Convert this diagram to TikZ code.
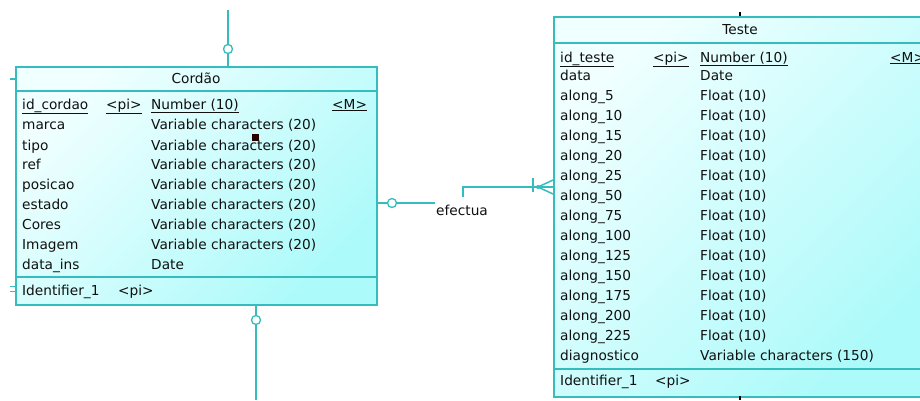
\documentclass[tikz,border=0pt]{standalone}
\usepackage{fontspec}
\setmainfont{DejaVu Sans}
\begin{document}
\begin{tikzpicture}[x=1pt,y=-1pt,
  teal line/.style={draw=ercol, line width=1.5pt},
  entbox/.style={draw=ercol, line width=1.5pt, rectangle, inner sep=0pt, anchor=north west,
     top color=entlight, bottom color=entdark, shading angle=45},
  txt/.style={anchor=base west, inner sep=0pt, font=\fontsize{13.7}{15}\selectfont, text=txtcol},
  ttl/.style={anchor=base, inner sep=0pt, font=\fontsize{13.7}{15}\selectfont, text=txtcol},
  opencirc/.style={circle, draw=ercol, line width=1.3pt, fill=white, inner sep=0pt, minimum size=9pt}]
\definecolor{ercol}{HTML}{36BCBC}
\definecolor{entlight}{HTML}{F0FFFF}
\definecolor{entdark}{HTML}{ADFAFA}
\definecolor{txtcol}{HTML}{101010}
\useasboundingbox (0,0) rectangle (920,400);
\clip (0,0) rectangle (920,400);

% ---------- Cordao entity ----------
\node[entbox, minimum width=361pt, minimum height=238pt] (cordao) at (15,66) {};
\draw[teal line] (15,91) -- (376,91);
\draw[teal line] (15,277) -- (376,277);
\node[ttl] (cordaot) at (196,83) {Cordão};
\foreach \n/\t/\y [count=\i] in {marca/Variable characters (20)/124, tipo/Variable characters (20)/145, ref/Variable characters (20)/164, posicao/Variable characters (20)/184, estado/Variable characters (20)/204, Cores/Variable characters (20)/224, Imagem/Variable characters (20)/244, data\_ins/Date/264}{
  \node[txt] (cn\i) at (22,\y+5) {\n};
  \node[txt] (ct\i) at (151,\y+5) {\t};
}
\node[txt] (cpk) at (22,109) {\underline{id\_cordao}};
\node[txt] (cpkpi) at (106,109) {\underline{<pi>}};
\node[txt] (cpkt) at (151,109) {\underline{Number (10)}};
\node[txt] (cpkm) at (332,109) {\underline{<M>}};
\node[txt] (cid) at (22,295) {Identifier\_1};
\node[txt] (cidpi) at (118,295) {<pi>};
\fill[black!85!red] (252,134) rectangle (259,141);

% ---------- Teste entity ----------
\node[entbox, minimum width=374pt, minimum height=380pt] (teste) at (553,16) {};
\draw[teal line] (553,43) -- (927,43);
\draw[teal line] (553,369) -- (927,369);
\node[ttl] (testet) at (740,34) {Teste};
\node[txt] (tpk) at (560,62) {\underline{id\_teste}};
\node[txt] (tpkpi) at (653,62) {\underline{<pi>}};
\node[txt] (tpkt) at (700,62) {\underline{Number (10)}};
\node[txt] (tpkm) at (890,62) {\underline{<M>}};
\node[txt] (tn0) at (560,80) {data};
\node[txt] (tt0) at (700,80) {Date};
\foreach \n/\y [count=\i] in {5/95, 10/115, 15/135, 20/155, 25/175, 50/195, 75/215, 100/235, 125/255, 150/275, 175/295, 200/315, 225/335}{
  \node[txt] (tn\i) at (560,\y+5) {along\_\n};
  \node[txt] (tt\i) at (700,\y+5) {Float (10)};
}
\node[txt] (tdiag) at (560,360) {diagnostico};
\node[txt] (tdiagt) at (700,360) {Variable characters (150)};
\node[txt] (tid) at (560,385) {Identifier\_1};
\node[txt] (tidpi) at (655,385) {<pi>};

% ---------- stubs of other connectors ----------
\coordinate (ctop) at (228,10);
\coordinate (cbot) at (256,400);
\node[opencirc] (ctopc) at (228,49) {};
\node[opencirc] (cbotc) at (256,320) {};
\draw[teal line] (ctop) -- (ctopc.north);
\draw[teal line] (ctopc.south) -- (228,66);
\draw[teal line] (256,304) -- (cbotc.north);
\draw[teal line] (cbotc.south) -- (cbot);
\draw[teal line] (10,79) -- (15,79);
\draw[draw=ercol, line width=1pt] (10,286) -- (15,286) (10,291) -- (15,291);
\coordinate (tt1) at (740,12);
\coordinate (tb1) at (740,400);
\draw[black, line width=1.4pt] (tt1) -- (740,16);
\draw[black, line width=1.4pt] (740,396) -- (tb1);

% ---------- relationship efectua ----------
\node[opencirc] (rc) at (392,203) {};
\draw[teal line] (376,203) -- (rc.west);
\draw[teal line] (rc.east) -- (435,203);
\node[txt] (efectua) at (436,215) {efectua};
\coordinate (foot) at (538,187);
\draw[teal line] (463,197) -- (463,187) -- (foot);
\draw[teal line] (533,178) -- (533,192);
\fill[ercol] (foot) circle (2pt);
\draw[teal line] (foot) -- (553,180);
\draw[teal line] (foot) -- (553,187);
\draw[teal line] (foot) -- (553,194);
\end{tikzpicture}
\end{document}
